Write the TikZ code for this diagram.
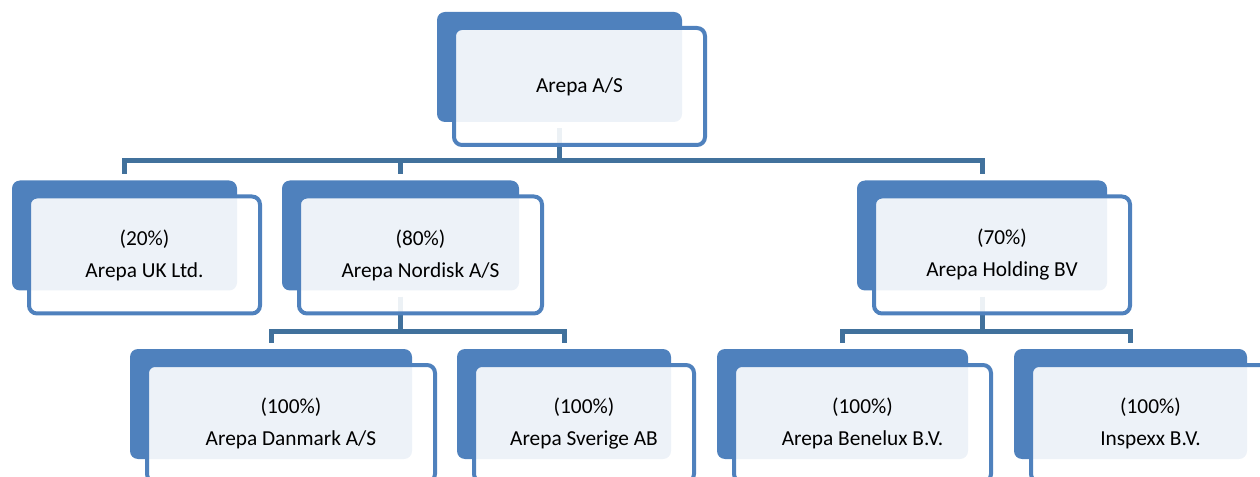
\documentclass[tikz,border=0pt]{standalone}
\usepackage{fontspec}
\setmainfont{Carlito}
\usetikzlibrary{backgrounds}
\definecolor{bx}{HTML}{4F81BD}
\definecolor{ln}{HTML}{41719C}

\tikzset{
  back/.style={fill=bx, rounded corners=6pt, inner sep=0pt, minimum height=82.5pt},
  front/.style={draw=bx, line width=3pt, fill=white, fill opacity=0.9, text opacity=1,
    rounded corners=6pt, inner sep=0pt, minimum height=87.75pt, align=center,
    font=\fontsize{16}{24}\selectfont},
  link/.style={draw=ln, line width=3.75pt, shorten <=4.5pt, shorten >=4.5pt},
}

\begin{document}
\begin{tikzpicture}[x=0.75pt, y=-0.75pt]
  \useasboundingbox (0,0) rectangle (1260,477);
  \clip (0,0) rectangle (1260,477);

  \node[font=\bfseries\fontsize{16}{16}\selectfont, anchor=base] (head) at (197,-3) {g};

  % top
  \node[back, minimum width=183.75pt] (top-b) at (559.5,67) {};
  \node[front, minimum width=188.25pt] (top) at (579.5,86.5) {Arepa A/S};

  % second row
  \node[back, minimum width=168.75pt] (uk-b) at (124.5,235.5) {};
  \node[front, minimum width=173.25pt] (uk) at (144.5,255) {(20\%)\\Arepa UK Ltd.};
  \node[back, minimum width=177.75pt] (nordisk-b) at (400.5,235.5) {};
  \node[front, minimum width=182.25pt] (nordisk) at (420.5,255) {(80\%)\\Arepa Nordisk A/S};
  \node[back, minimum width=187.5pt] (holding-b) at (982,235.5) {};
  \node[front, minimum width=192pt] (holding) at (1002,255) {(70\%)\\Arepa Holding BV};

  % third row
  \node[back, minimum width=211.5pt] (danmark-b) at (271,404) {};
  \node[front, minimum width=216pt] (danmark) at (291,423.5) {(100\%)\\Arepa Danmark A/S};
  \node[back, minimum width=160.5pt] (sverige-b) at (564,404) {};
  \node[front, minimum width=165pt] (sverige) at (584,423.5) {(100\%)\\Arepa Sverige AB};
  \node[back, minimum width=188.25pt] (benelux-b) at (842.5,404) {};
  \node[front, minimum width=192.75pt] (benelux) at (862.5,423.5) {(100\%)\\Arepa Benelux B.V.};
  \node[back, minimum width=174.75pt] (inspexx-b) at (1130.5,404) {};
  \node[front, minimum width=179.25pt] (inspexx) at (1150.5,423.5) {(100\%)\\Inspexx B.V.};

  \begin{scope}[on background layer]
    \draw[link] (top-b.south) -- ++(0,38) -| (uk-b.north);
    \draw[link] (top-b.south) -- ++(0,38) -| (nordisk-b.north);
    \draw[link] (top-b.south) -- ++(0,38) -| (holding-b.north);
    \draw[link] (nordisk-b.south) -- ++(0,41) -| (danmark-b.north);
    \draw[link] (nordisk-b.south) -- ++(0,41) -| (sverige-b.north);
    \draw[link] (holding-b.south) -- ++(0,41) -| (benelux-b.north);
    \draw[link] (holding-b.south) -- ++(0,41) -| (inspexx-b.north);
  \end{scope}
\end{tikzpicture}
\end{document}
